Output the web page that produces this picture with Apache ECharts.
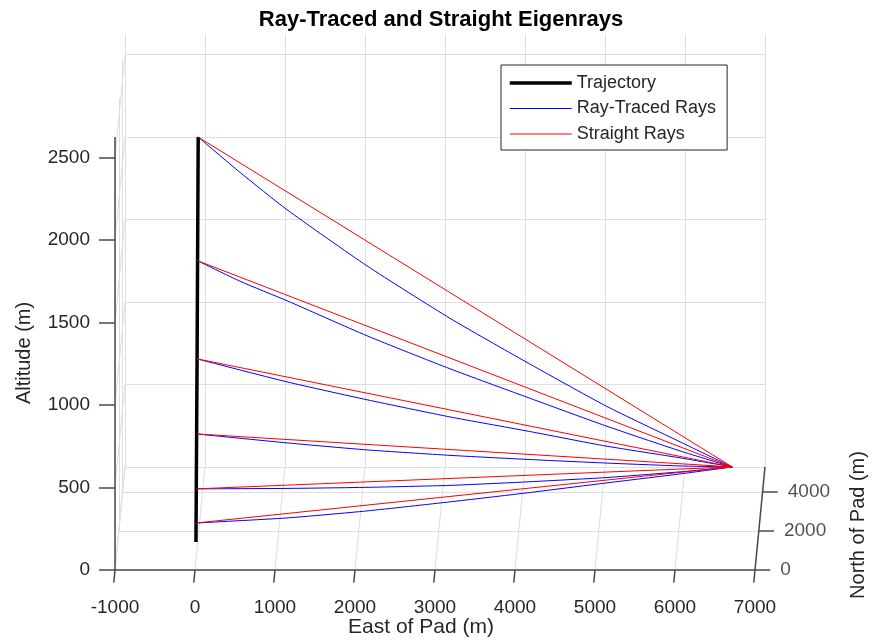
<!DOCTYPE html>
<html>
<head>
<meta charset="utf-8">
<script src="https://cdn.jsdelivr.net/npm/echarts@6/dist/echarts.min.js"></script>
<style>html,body{margin:0;padding:0;background:#fff}#c{width:875px;height:642px}</style>
</head>
<body>
<div id="c"></div>
<script>
// ---- data (East, North, Altitude in metres) ----
const eastTicks = [-1000, 0, 1000, 2000, 3000, 4000, 5000, 6000, 7000];
const northTicks = [0, 2000, 4000];
const altTicks = [0, 500, 1000, 1500, 2000, 2500];
const eastLim = [-1000, 7000];
const northLim = [0, 5300];
const altLim = [0, 2625];

const trajectory = [[12, 0, 170], [26, 0, 1280], [40, 0, 2625]];
const receiver = [6590, 5300, 0];
const sources = [[40, 0, 2625], [33, 0, 1875], [27, 0, 1280], [22, 0, 825], [17, 0, 492], [14, 0, 285]];

const rayTraced1 = [[40,0,2625],[553,422,2361],[1129,888,2080],[2110,1681,1646],[3128,2503,1231],[4061,3256,878],[5042,4049,517],[5950,4783,213],[6590,5300,0]];
const rayTraced2 = [[33,0,1875],[553,422,1701],[1129,888,1528],[2110,1681,1222],[3128,2503,925],[4061,3256,666],[5042,4049,396],[5950,4783,158],[6590,5300,0]];
const rayTraced3 = [[27,0,1280],[1129,888,1036],[2110,1681,834],[3128,2503,633],[4061,3256,460],[5042,4049,274],[5950,4783,116],[6590,5300,0]];
const rayTraced4 = [[22,0,825],[1129,888,666],[2110,1681,530],[3128,2503,400],[4061,3256,287],[5042,4049,171],[5950,4783,67],[6590,5300,0]];
const rayTraced5 = [[17,0,492],[1129,888,390],[2110,1681,303],[3128,2503,218],[4061,3256,150],[5042,4049,83],[5950,4783,31],[6590,5300,0]];
const rayTraced6 = [[14,0,285],[1129,888,211],[2110,1681,160],[3128,2503,118],[4061,3256,83],[5042,4049,50],[5950,4783,18.5],[6590,5300,0]];
const rayTraced = [rayTraced1, rayTraced2, rayTraced3, rayTraced4, rayTraced5, rayTraced6];

// ---- oblique view projection (north recedes up and slightly right) ----
const AX = 125 / 5300, AY = 625 / 5300;
function P(p) { return [p[0] + AX * p[1], p[2] + AY * p[1]]; }

const FONT = 'Liberation Sans, Arial, Helvetica, sans-serif';
const TXT = '#262626';
const GRID = '#dedede';
const AXC = '#4a4a4a';

const [E0, E1] = eastLim, [N0, N1] = northLim, [Z0, Z1] = altLim;
const gridSegs = [];
eastTicks.forEach(e => { gridSegs.push([[e, N1, Z0], [e, N1, Z1]]); gridSegs.push([[e, N0, Z0], [e, N1, Z0]]); });
altTicks.forEach(z => { gridSegs.push([[E0, N1, z], [E1, N1, z]]); gridSegs.push([[E0, N0, z], [E0, N1, z]]); });
northTicks.forEach(n => { gridSegs.push([[E0, n, Z0], [E0, n, Z1]]); gridSegs.push([[E0, n, Z0], [E1, n, Z0]]); });

const axisSegs = [
  [[E0, N0, Z0], [E0, N0, Z1]],
  [[E0, N0, Z0], [E1, N0, Z0]],
  [[E1, N0, Z0], [E1, N1, Z0]]
];
eastTicks.forEach(e => axisSegs.push([[e, 0, 0], [e, -650, 0]]));
altTicks.forEach(z => axisSegs.push([[E0, 0, z], [E0 - 200, 0, z]]));
northTicks.forEach(n => axisSegs.push([[E1, n, 0], [E1 + 190, n, 0]]));

function segSeries(segs, color, width) {
  return {
    type: 'lines', coordinateSystem: 'cartesian2d', polyline: false, silent: true, clip: false,
    lineStyle: { color: color, width: width, opacity: 1 },
    data: segs.map(s => ({ coords: [P(s[0]), P(s[1])] })), z: 1
  };
}

const series = [
  segSeries(gridSegs, GRID, 1),
  segSeries(axisSegs, AXC, 1.5),
  {
    type: 'line', name: 'Trajectory', symbol: 'none', clip: false,
    lineStyle: { color: '#000', width: 3.5 }, itemStyle: { color: '#000' },
    data: trajectory.map(P), z: 3
  }
];
rayTraced.forEach(r => series.push({
  type: 'line', name: 'Ray-Traced Rays', symbol: 'none', smooth: 0.2, clip: false,
  lineStyle: { color: '#0000ff', width: 1 }, itemStyle: { color: '#0000ff' },
  data: r.map(P), z: 4
}));
sources.forEach(s => series.push({
  type: 'line', name: 'Straight Rays', symbol: 'none', clip: false,
  lineStyle: { color: '#ff0000', width: 1 }, itemStyle: { color: '#ff0000' },
  data: [P(s), P(receiver)], z: 5
}));
series.push({
  type: 'scatter', symbolSize: 0, silent: true, clip: false,
  data: northTicks.map(n => P([E1 + 190, n, 0]).concat([n])),
  label: { show: true, position: 'right', distance: 10, formatter: p => String(p.value[2]),
           fontFamily: FONT, fontSize: 19, color: TXT },
  z: 6
});

const chart = echarts.init(document.getElementById('c'), null, { renderer: 'canvas' });
chart.setOption({
  animation: false,
  backgroundColor: '#fff',
  grid: { left: 115, right: 110, top: 34, bottom: 72 },
  xAxis: {
    type: 'value', min: -1000, max: 7125,
    axisLine: { show: false }, axisTick: { show: false }, splitLine: { show: false },
    axisLabel: { customValues: eastTicks, margin: 28, fontFamily: FONT, fontSize: 19, color: TXT,
                 formatter: v => String(v) }
  },
  yAxis: {
    type: 'value', min: 0, max: 3250,
    axisLine: { show: false }, axisTick: { show: false }, splitLine: { show: false },
    axisLabel: { customValues: altTicks, margin: 25, fontFamily: FONT, fontSize: 19, color: TXT,
                 formatter: v => String(v) }
  },
  legend: {
    data: [
      { name: 'Trajectory', lineStyle: { width: 3.5, color: '#000' } },
      { name: 'Ray-Traced Rays', lineStyle: { width: 1, color: '#0000ff' } },
      { name: 'Straight Rays', lineStyle: { width: 1, color: '#ff0000' } }
    ],
    orient: 'vertical', left: 501, top: 65,
    padding: [9, 11, 7, 7], itemWidth: 62, itemHeight: 18, itemGap: 7.5,
    itemStyle: { opacity: 0 },
    borderColor: '#262626', borderWidth: 1, backgroundColor: '#fff',
    textStyle: { fontFamily: FONT, fontSize: 18, color: TXT }, selectedMode: false
  },
  graphic: [
    { type: 'text', x: 441, y: 20, style: { text: 'Ray-Traced and Straight Eigenrays', font: 'bold 22px ' + FONT,
      fill: '#000', textAlign: 'center', textVerticalAlign: 'middle' } },
    { type: 'text', x: 421, y: 627, style: { text: 'East of Pad (m)', font: '21px ' + FONT,
      fill: TXT, textAlign: 'center', textVerticalAlign: 'middle' } },
    { type: 'text', x: 24, y: 353, rotation: Math.PI / 2, style: { text: 'Altitude (m)', font: '20px ' + FONT,
      fill: TXT, textAlign: 'center', textVerticalAlign: 'middle' } },
    { type: 'text', x: 858, y: 525, rotation: Math.PI / 2, style: { text: 'North of Pad (m)', font: '20px ' + FONT,
      fill: TXT, textAlign: 'center', textVerticalAlign: 'middle' } }
  ],
  series: series
});
</script>
</body>
</html>
